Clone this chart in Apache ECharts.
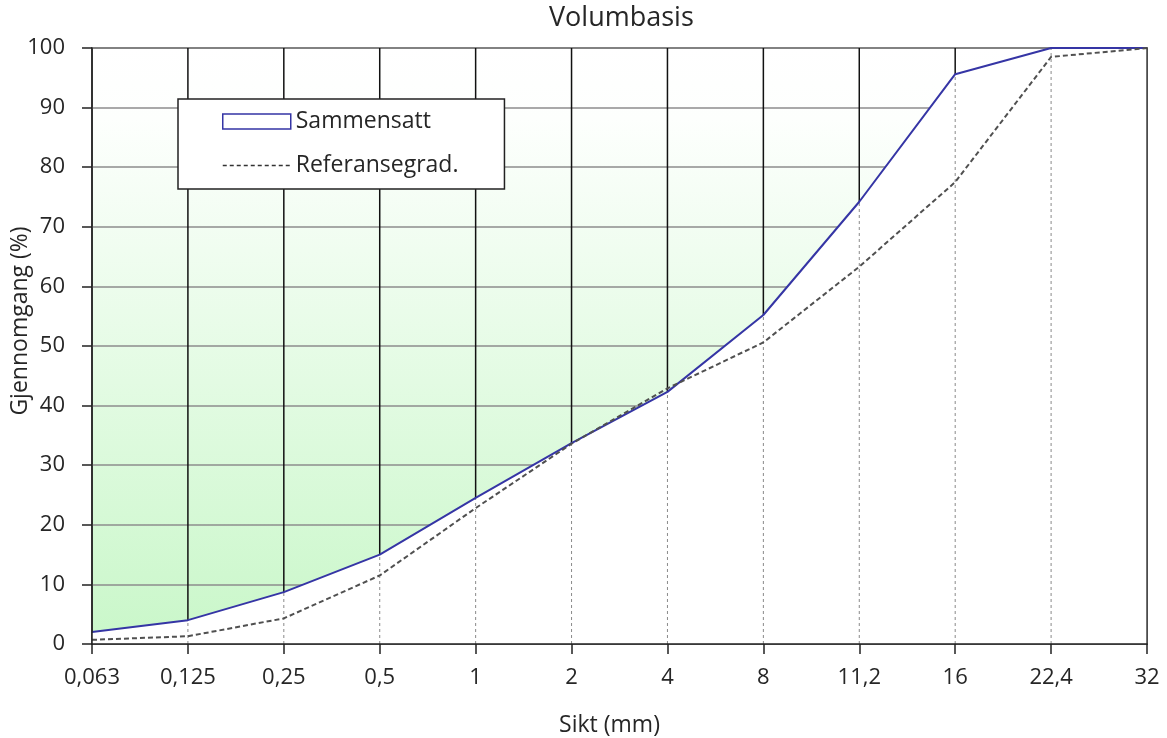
<!DOCTYPE html>
<html>
<head>
<meta charset="utf-8">
<script src="https://cdn.jsdelivr.net/npm/echarts@6/dist/echarts.min.js"></script>
<style>
html,body{margin:0;padding:0;background:#fff;}
#chart{width:1167px;height:738px;}
</style>
</head>
<body>
<div id="chart"></div>
<script>
// Sieve sizes (mm) – category labels
const sizes = ['0,063', '0,125', '0,25', '0,5', '1', '2', '4', '8', '11,2', '16', '22,4', '32'];
// Passing (%) – composite grading
const sammensatt = [2.0, 4.0, 8.7, 15.0, 24.5, 33.7, 42.3, 55.2, 74.2, 95.6, 100, 100];
// Passing (%) – reference grading
const referanse = [0.7, 1.3, 4.3, 11.5, 22.8, 33.6, 42.9, 50.6, 63.3, 77.5, 98.5, 100];

const FONT = '"Open Sans", "Noto Sans", sans-serif';
const TXT = '#262626';

const chart = echarts.init(document.getElementById('chart'), null, {renderer: 'canvas'});

const verticalData = sizes.map((s, i) => [i, sammensatt[i]]);

chart.setOption({
  animation: false,
  backgroundColor: '#fff',
  title: {
    text: 'Volumbasis',
    left: 549,
    top: 5,
    padding: 0,
    textStyle: {fontFamily: FONT, fontSize: 27, fontWeight: 'normal', color: TXT}
  },
  grid: {
    left: 92, right: 20, top: 48, bottom: 94,
    containLabel: false,
    outerBoundsMode: 'none',
    show: true,
    borderColor: '#333',
    borderWidth: 1.5,
    backgroundColor: {
      type: 'linear', x: 0, y: 0, x2: 0, y2: 1,
      colorStops: [
        {offset: 0, color: '#ffffff'},
        {offset: 0.12, color: '#fdfffd'},
        {offset: 1, color: '#c9f7c9'}
      ]
    }
  },
  legend: {
    orient: 'vertical',
    left: 178,
    top: 99,
    padding: [11, 46, 12, 44],
    itemGap: 21,
    itemWidth: 68,
    itemHeight: 15,
    backgroundColor: '#fff',
    borderColor: '#222',
    borderWidth: 1.5,
    borderRadius: 0,
    textStyle: {fontFamily: FONT, fontSize: 23, color: TXT},
    z: 20,
    data: [
      {name: 'Sammensatt', icon: 'rect', itemStyle: {color: '#fff', borderColor: '#3535a5', borderWidth: 1.5}},
      {name: 'Referansegrad.', itemStyle: {opacity: 0}, lineStyle: {color: '#333', width: 1.5, type: [4, 3]}}
    ]
  },
  xAxis: {
    type: 'category',
    data: sizes,
    boundaryGap: false,
    z: 10,
    name: 'Sikt (mm)',
    nameLocation: 'middle',
    nameGap: 70,
    nameTextStyle: {fontFamily: FONT, fontSize: 23, color: TXT, padding: [0, 20, 0, 0]},
    axisLine: {show: true, onZero: false, lineStyle: {color: '#222', width: 1.5}},
    axisTick: {show: true, length: 10, interval: 0, lineStyle: {color: '#222', width: 1.5}},
    axisLabel: {interval: 0, margin: 23, fontFamily: FONT, fontSize: 22, color: TXT},
    splitLine: {show: false}
  },
  yAxis: [
    {
      type: 'value', min: 0, max: 100, interval: 10, position: 'left', z: 10,
      name: 'Gjennomgang (%)',
      nameLocation: 'middle',
      nameGap: 60,
      nameMoveOverlap: false,
      nameTextStyle: {fontFamily: FONT, fontSize: 23, color: TXT, padding: [0, 0, 0, 50]},
      axisLine: {show: true, lineStyle: {color: '#222', width: 1.5}},
      axisTick: {show: true, length: 10, lineStyle: {color: '#222', width: 1.5}},
      axisLabel: {margin: 27, fontFamily: FONT, fontSize: 22, color: TXT},
      splitLine: {show: false}
    },
    {
      type: 'value', min: 0, max: 100, interval: 10, position: 'left', z: 0,
      axisLine: {show: false}, axisTick: {show: false}, axisLabel: {show: false},
      splitLine: {show: true, lineStyle: {color: '#8c8c8c', width: 1.5}}
    },
    {
      type: 'value', min: 0, max: 100, interval: 10, position: 'right', z: 10,
      axisLine: {show: true, lineStyle: {color: '#444', width: 1.5}},
      axisTick: {show: false}, axisLabel: {show: false}, splitLine: {show: false}
    }
  ],
  series: [
    {
      name: 'Sammensatt',
      type: 'line',
      yAxisIndex: 0,
      data: sammensatt,
      symbol: 'none',
      z: 2,
      lineStyle: {color: '#3535a5', width: 2},
      itemStyle: {color: '#3535a5'},
      areaStyle: {color: '#ffffff', opacity: 1}
    },
    {
      name: 'verticals',
      type: 'custom',
      yAxisIndex: 0,
      silent: true,
      z: 2,
      data: verticalData,
      encode: {x: 0, y: 1},
      renderItem: function (params, api) {
        const idx = api.value(0);
        const v = api.value(1);
        const pBot = api.coord([idx, 0]);
        const pMid = api.coord([idx, v]);
        const pTop = api.coord([idx, 100]);
        const children = [];
        if (idx > 0 && idx < sizes.length - 1) {
          children.push({
            type: 'line',
            shape: {x1: pBot[0], y1: pBot[1], x2: pMid[0], y2: pMid[1]},
            style: {stroke: '#8a8a8a', lineWidth: 1, lineDash: [3, 3]}
          });
        }
        if (idx > 0) {
          children.push({
            type: 'line',
            shape: {x1: pMid[0], y1: pMid[1], x2: pTop[0], y2: pTop[1]},
            style: {stroke: '#111', lineWidth: 1.5}
          });
        }
        return {type: 'group', children: children};
      }
    },
    {
      name: 'Referansegrad.',
      type: 'line',
      yAxisIndex: 0,
      data: referanse,
      symbol: 'none',
      z: 3,
      lineStyle: {color: '#505050', width: 2, type: [5, 3]},
      itemStyle: {color: '#505050'}
    }
  ]
});
</script>
</body>
</html>
